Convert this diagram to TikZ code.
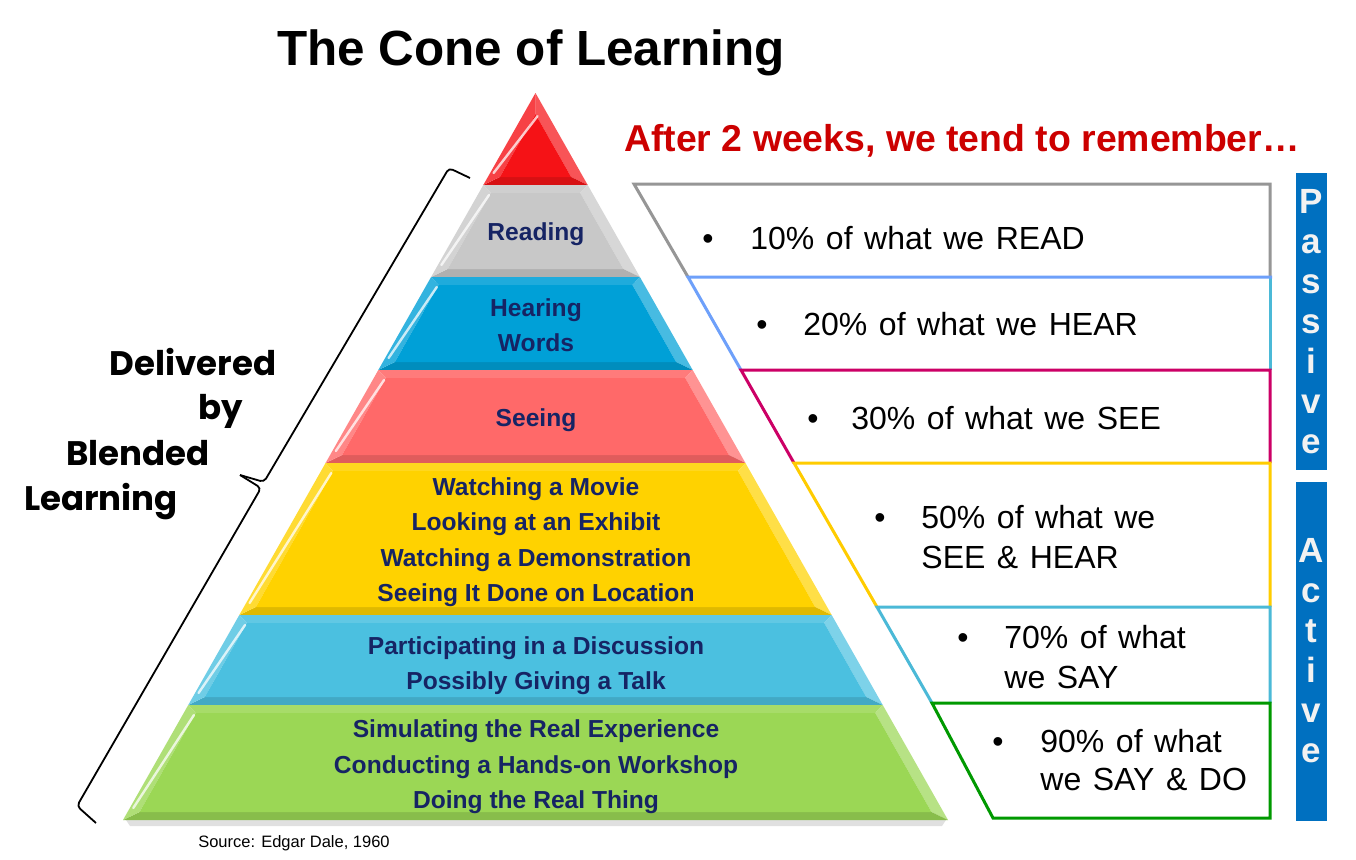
\documentclass[tikz,border=0pt]{standalone}
\usepackage{fontspec}
\setmainfont{Liberation Sans}
\newfontfamily\popfont{Poppins}
\newfontfamily\boxfont[WordSpace=1.3]{Liberation Sans}
\definecolor{cRed}{RGB}{245,18,22}
\definecolor{cGray}{RGB}{200,200,200}
\definecolor{cHear}{RGB}{0,160,215}
\definecolor{cSee}{RGB}{255,105,105}
\definecolor{cYel}{RGB}{255,210,0}
\definecolor{cLBlue}{RGB}{75,192,224}
\definecolor{cGreen}{RGB}{155,215,85}
\definecolor{navy}{RGB}{22,36,100}
\definecolor{headred}{RGB}{204,0,0}
\definecolor{barblue}{RGB}{0,112,192}
\definecolor{offwhite}{RGB}{242,242,242}
\definecolor{bGray}{RGB}{150,150,150}
\definecolor{bPeri}{RGB}{110,160,250}
\definecolor{bCyan}{RGB}{75,185,215}
\definecolor{bMag}{RGB}{204,0,102}
\definecolor{bYel}{RGB}{255,204,0}
\definecolor{bGreen}{RGB}{0,153,0}
\tikzset{
  ptext/.style={font=\bfseries\fontsize{12.3}{14}\selectfont, text=navy, anchor=base, inner sep=0pt},
  rtext/.style={font=\boxfont\fontsize{16}{18}\selectfont, anchor=base west, inner sep=0pt},
  bul/.style={font=\fontsize{16}{18}\selectfont, anchor=base, inner sep=0pt},
  vlet/.style={font=\bfseries\fontsize{17.5}{18}\selectfont, text=offwhite, anchor=base, inner sep=0pt},
  dtext/.style={font=\popfont\bfseries\fontsize{17}{18}\selectfont, anchor=base, inner sep=0pt},
  boxline/.style={line width=1.5pt, line join=miter},
}
% #1 top y, #2 bottom y, #3 colour, #4 top inset
\newcommand\conelayer[4]{%
  \pgfmathsetmacro\cAxl{535.5-(#1-93)*0.5674}%
  \pgfmathsetmacro\cAxr{535.5+(#1-93)*0.5674}%
  \pgfmathsetmacro\cDxl{535.5-(#2-93)*0.5674}%
  \pgfmathsetmacro\cDxr{535.5+(#2-93)*0.5674}%
  \pgfmathsetmacro\cTy{#1+#4}%
  \pgfmathsetmacro\cBy{#2-8}%
  \pgfmathsetmacro\caxl{535.5-(\cTy-93)*0.5674+12}%
  \pgfmathsetmacro\caxr{535.5+(\cTy-93)*0.5674-12}%
  \pgfmathsetmacro\cdxl{535.5-(\cBy-93)*0.5674+12}%
  \pgfmathsetmacro\cdxr{535.5+(\cBy-93)*0.5674-12}%
  \fill[#3!88!white] (\cAxl,#1) -- (\cAxr,#1) -- (\caxr,\cTy) -- (\caxl,\cTy) -- cycle;
  \fill[#3!72!white] (\cAxr,#1) -- (\cDxr,#2) -- (\cdxr,\cBy) -- (\caxr,\cTy) -- cycle;
  \fill[#3!88!black] (\cDxl,#2) -- (\cDxr,#2) -- (\cdxr,\cBy) -- (\cdxl,\cBy) -- cycle;
  \fill[#3!80!white] (\cAxl,#1) -- (\cDxl,#2) -- (\cdxl,\cBy) -- (\caxl,\cTy) -- cycle;
  \fill[#3] (\caxl,\cTy) -- (\caxr,\cTy) -- (\cdxr,\cBy) -- (\cdxl,\cBy) -- cycle;
  \draw[white, opacity=0.75, line width=1.2pt, line cap=round]
    ({(\cAxl+\caxl)/2+2},{\cTy+2}) -- ({(\cDxl+\cdxl)/2+2},{\cBy-4});
}
\begin{document}
\begin{tikzpicture}[x=0.5pt,y=-0.5pt]
\useasboundingbox (0,0) rectangle (1356,859);
\fill[white] (0,0) rectangle (1356,859);

% shadow under base
\fill[black, opacity=0.12] (126,820) -- (946,820) -- (942,826) -- (130,826) -- cycle;

% pyramid layers
\conelayer{93}{185}{cRed}{21.15}
\conelayer{185}{277}{cGray}{8}
\conelayer{277}{370}{cHear}{8}
\conelayer{370}{463}{cSee}{8}
\conelayer{463}{615}{cYel}{8}
\conelayer{615}{705}{cLBlue}{8}
\conelayer{705}{820}{cGreen}{8}

% pyramid texts
\node[ptext] (tRead) at (536,240) {Reading};
\node[ptext] (tHear1) at (536,316) {Hearing};
\node[ptext] (tHear2) at (536,351) {Words};
\node[ptext] (tSee) at (536,426) {Seeing};
\node[ptext] (tY1) at (536,495) {Watching a Movie};
\node[ptext] (tY2) at (536,530) {Looking at an Exhibit};
\node[ptext] (tY3) at (536,566) {Watching a Demonstration};
\node[ptext] (tY4) at (536,601) {Seeing It Done on Location};
\node[ptext] (tL1) at (536,654) {Participating in a Discussion};
\node[ptext] (tL2) at (536,689) {Possibly Giving a Talk};
\node[ptext] (tG1) at (536,737) {Simulating the Real Experience};
\node[ptext] (tG2) at (536,773) {Conducting a Hands-on Workshop};
\node[ptext] (tG3) at (536,808) {Doing the Real Thing};

% title and heading
\node[font=\bfseries\fontsize{24.7}{28}\selectfont, anchor=base, inner sep=0pt] (title) at (531,65) {The Cone of Learning};
\node[font=\bfseries\fontsize{18.7}{22}\selectfont, text=headred, anchor=base, inner sep=0pt] (head) at (962,151) {After 2 weeks, we tend to remember…};
\node[font=\fontsize{8.25}{10}\selectfont, anchor=base, inner sep=0pt] (src) at (294,847) {Source: Edgar Dale, 1960};

% right boxes
\draw[boxline, bGray] (1270,277) -- (1270,184) -- (634,184) -- (688,277);
\draw[boxline, bCyan] (1270,277) -- (1270,370);
\draw[boxline, bPeri] (1272,277) -- (688,277) -- (741,370);
\draw[boxline, bMag] (1270,463) -- (1270,370) -- (741,370) -- (794,463);
\draw[boxline, bYel] (1270,607) -- (1270,463) -- (794,463) -- (877,607);
\draw[boxline, bCyan] (1270,703) -- (1270,607) -- (877,607) -- (932,703);
\draw[boxline, bGreen] (932,703) -- (1270,703) -- (1270,818) -- (993,818) -- cycle;

% box texts
\node[bul] (b1) at (708,249) {\textbullet};
\node[rtext] (r1) at (750,249) {10\% of what we READ};
\node[bul] (b2) at (762,335) {\textbullet};
\node[rtext] (r2) at (803,335) {20\% of what we HEAR};
\node[bul] (b3) at (813,429) {\textbullet};
\node[rtext] (r3) at (851,429) {30\% of what we SEE};
\node[bul] (b4) at (880,528) {\textbullet};
\node[rtext] (r4a) at (921,528) {50\% of what we};
\node[rtext] (r4b) at (921,568) {SEE \& HEAR};
\node[bul] (b5) at (963,648) {\textbullet};
\node[rtext] (r5a) at (1004,648) {70\% of what};
\node[rtext] (r5b) at (1004,688) {we SAY};
\node[bul] (b6) at (998,752) {\textbullet};
\node[rtext] (r6a) at (1040,752) {90\% of what};
\node[rtext] (r6b) at (1040,790) {we SAY \& DO};

% passive / active bars
\fill[barblue] (1296,173) rectangle (1327,470);
\fill[barblue] (1296,482) rectangle (1327,821);
\foreach \ch [count=\i] in {P,a,s,s,i,v,e}
  \node[vlet] (p\i) at (1311,{213+40*(\i-1)}) {\ch};
\foreach \ch [count=\i] in {A,c,t,i,v,e}
  \node[vlet] (a\i) at (1311,{562+40*(\i-1)}) {\ch};

% delivered by blended learning
\node[dtext] (d1) at (193,375) {Delivered};
\node[dtext] (d2) at (221,419) {by};
\node[dtext] (d3) at (138,465) {Blended};
\node[dtext] (d4) at (101,510) {Learning};

% brace
\draw[line width=0.9pt, rounded corners=2pt] (470,178) -- (449,168) -- (264,482) -- (240,475);
\draw[line width=0.9pt, rounded corners=2pt] (240,475) -- (261,488) -- (77,806) -- (96,823);
\end{tikzpicture}
\end{document}
